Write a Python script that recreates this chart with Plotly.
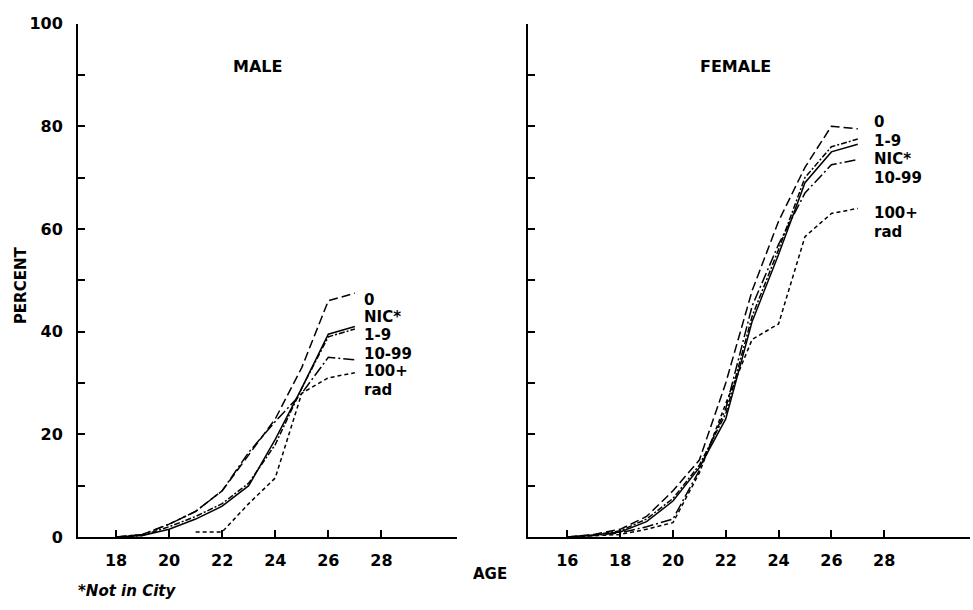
import plotly.graph_objects as go

# ---------------- data ----------------
male_ages = [18, 19, 20, 21, 22, 23, 24, 25, 26, 27]
male_0 = [0, 0.5, 2.5, 5, 9, 16, 23, 33, 46, 47.5]
male_nic = [0, 0.3, 1.5, 3.5, 6, 10, 19, 29, 39.5, 41]
male_1_9 = [0, 0.3, 2, 4, 6.5, 10.5, 18, 29, 39, 40.5]
male_10_99 = [0, 0.5, 2.5, 5, 9, 16.5, 22.5, 28, 35, 34.5]
male_100_ages = [21, 22, 23, 24, 25, 26, 27]
male_100 = [1, 1, 6.5, 11.5, 28, 31, 32]

female_ages = [16, 17, 18, 19, 20, 21, 22, 23, 24, 25, 26, 27]
female_0 = [0, 0.5, 1.5, 4, 9, 15, 30, 48, 61.5, 72, 80, 79.5]
female_1_9 = [0, 0.4, 1.2, 3.5, 7.5, 14, 24, 43, 56, 70, 76, 77.5]
female_nic = [0, 0.4, 1, 3, 7, 13.5, 23, 42, 55, 69, 75, 76.5]
female_10_99 = [0, 0.3, 0.8, 2, 3.5, 13, 25, 45, 57, 67, 72.5, 73.5]
female_100 = [0, 0.2, 0.5, 1.5, 2.8, 12.5, 26, 38.5, 41.5, 58.5, 63, 64]

y_ticks = [0, 10, 20, 30, 40, 50, 60, 70, 80, 90, 100]
y_ticktext = ["0", "", "20", "", "40", "", "60", "", "80", "", "100"]
male_xticks = [18, 20, 22, 24, 26, 28]
female_xticks = [16, 18, 20, 22, 24, 26, 28]

male_labels = ["0", "NIC*", "1-9", "10-99", "100+", "rad"]
female_labels = ["0", "1-9", "NIC*", "10-99", "100+", "rad"]

# ---------------- styling ----------------
W, H = 973, 610
FONT = "DejaVu Sans"
def px(x):
    return x / W
def py(y):
    return 1 - y / H

styles = {
    "0": dict(dash="9px,4px"),
    "NIC": dict(dash="solid"),
    "1-9": dict(dash="6px,2px,2px,2px"),
    "10-99": dict(dash="11px,3px,2px,3px"),
    "100+": dict(dash="4px,3px"),
}

fig = go.Figure()

def add(xs, ys, key, xa, ya):
    fig.add_trace(go.Scatter(
        x=xs, y=ys, mode="lines", xaxis=xa, yaxis=ya,
        line=dict(color="black", width=1.5, dash=styles[key]["dash"]),
        showlegend=False, hoverinfo="skip"))

add(male_ages, male_0, "0", "x", "y")
add(male_ages, male_nic, "NIC", "x", "y")
add(male_ages, male_1_9, "1-9", "x", "y")
add(male_ages, male_10_99, "10-99", "x", "y")
add(male_100_ages, male_100, "100+", "x", "y")

add(female_ages, female_0, "0", "x2", "y2")
add(female_ages, female_1_9, "1-9", "x2", "y2")
add(female_ages, female_nic, "NIC", "x2", "y2")
add(female_ages, female_10_99, "10-99", "x2", "y2")
add(female_ages, female_100, "100+", "x2", "y2")

ydom = [py(545), py(15)]
axis_common = dict(showgrid=False, zeroline=False, showline=True, linecolor="black",
                   linewidth=2, ticks="inside", ticklen=7, tickwidth=1.5,
                   tickcolor="black",
                   tickfont=dict(family=FONT, size=16, color="black", weight="bold"))

fig.update_layout(
    width=W, height=H, margin=dict(l=0, r=0, t=0, b=0),
    paper_bgcolor="white", plot_bgcolor="white",
    xaxis=dict(domain=[px(78), px(457)], range=[16.566, 30.85],
               tickvals=male_xticks, ticklabelstandoff=8, anchor="y", **axis_common),
    yaxis=dict(domain=ydom, range=[0, 100], tickvals=y_ticks, ticktext=y_ticktext,
               ticklabelstandoff=10, anchor="x", **axis_common),
    xaxis2=dict(domain=[px(528), px(970)], range=[14.51, 31.25],
                tickvals=female_xticks, ticklabelstandoff=8, anchor="y2", **axis_common),
    yaxis2=dict(domain=ydom, range=[0, 100], tickvals=y_ticks, showticklabels=False,
                anchor="x2", **axis_common),
)

ann_font = dict(family=FONT, size=15, color="black", weight="bold")
anns = []
male_label_y = [300, 318, 336, 356, 374, 393]
for t, yy in zip(male_labels, male_label_y):
    anns.append(dict(text=t, x=px(362), y=py(yy), xref="paper", yref="paper",
                     xanchor="left", yanchor="middle", showarrow=False, font=ann_font))
female_label_y = [117, 136, 155, 174, 211, 230]
for t, yy in zip(female_labels, female_label_y):
    anns.append(dict(text=t, x=px(872), y=py(yy), xref="paper", yref="paper",
                     xanchor="left", yanchor="middle", showarrow=False, font=ann_font))

title_font = dict(family=FONT, size=15, color="black", weight="bold")
anns.append(dict(text="MALE", x=px(257), y=py(59), xref="paper", yref="paper",
                 xanchor="center", yanchor="middle", showarrow=False,
                 font=dict(family=FONT, size=16, color="black", weight="bold")))
anns.append(dict(text="FEMALE", x=px(735), y=py(59), xref="paper", yref="paper",
                 xanchor="center", yanchor="middle", showarrow=False,
                 font=dict(family=FONT, size=16, color="black", weight="bold")))
anns.append(dict(text="PERCENT", x=px(21), y=py(285), xref="paper", yref="paper",
                 xanchor="center", yanchor="middle", textangle=-90, showarrow=False,
                 font=title_font))
anns.append(dict(text="AGE", x=px(490), y=py(583), xref="paper", yref="paper",
                 xanchor="center", yanchor="middle", showarrow=False, font=title_font))
anns.append(dict(text="<i>*Not in City</i>", x=px(76), y=py(601), xref="paper", yref="paper",
                 xanchor="left", yanchor="middle", showarrow=False, font=title_font))
fig.update_layout(annotations=anns)

fig.write_html("out.html")
